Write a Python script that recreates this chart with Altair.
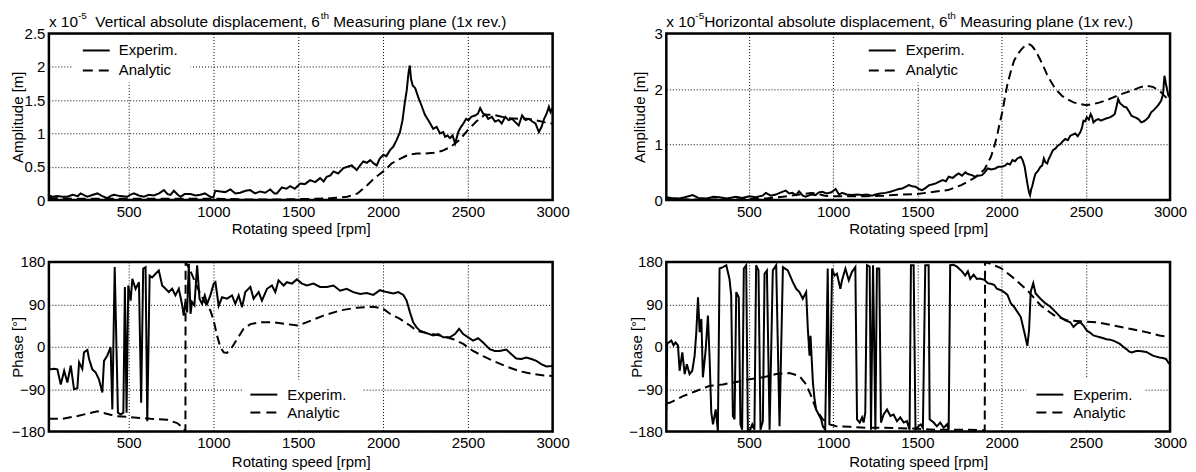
import altair as alt
import pandas as pd

FONT = "Liberation Sans"

# ---------------- data (rpm, value) ----------------
# Top-left: vertical amplitude [x 1e-5 m]
tl_exp = [(30,0.07),(50,0.05),(80,0.06),(110,0.05),(139,0.05),(170,0.08),(200,0.06),(217,0.1),(240,0.07),
          (257,0.05),(290,0.08),(316,0.1),(345,0.06),(374,0.03),(400,0.07),(414,0.08),(450,0.06),(492,0.05),
          (510,0.08),(531,0.1),(560,0.07),(590,0.05),(620,0.08),(649,0.07),(680,0.1),(708,0.15),(730,0.09),
          (747,0.08),(767,0.14),(790,0.08),(806,0.05),(830,0.09),(865,0.09),(895,0.07),(923,0.08),(950,0.1),
          (982,0.05),(1000,0.04),(1011,0.14),(1041,0.13),(1070,0.12),(1100,0.16),(1130,0.1),(1158,0.11),
          (1190,0.14),(1217,0.15),(1245,0.1),(1276,0.13),(1305,0.11),(1335,0.16),(1360,0.1),(1374,0.1),
          (1404,0.19),(1430,0.17),(1453,0.21),(1480,0.17),(1512,0.25),(1540,0.24),(1570,0.3),(1600,0.27),
          (1629,0.33),(1650,0.28),(1668,0.35),(1690,0.37),(1708,0.43),(1735,0.4),(1767,0.48),(1790,0.5),
          (1816,0.52),(1845,0.45),(1865,0.52),(1884,0.58),(1905,0.56),(1924,0.6),(1945,0.55),(1963,0.52),
          (1980,0.62),(2002,0.68),(2020,0.66),(2041,0.75),(2060,0.8),(2080,0.9),(2100,1.02),(2115,1.2),
          (2128,1.45),(2140,1.65),(2150,1.9),(2158,2.02),(2165,1.82),(2175,1.72),(2190,1.68),(2207,1.55),
          (2227,1.42),(2247,1.28),(2267,1.2),(2285,1.12),(2296,1.07),(2316,1.1),(2336,1.0),(2355,1.02),
          (2366,0.95),(2380,0.97),(2395,0.93),(2410,0.97),(2425,0.85),(2445,1.03),(2460,1.1),(2474,1.15),
          (2490,1.22),(2504,1.2),(2520,1.25),(2543,1.27),(2560,1.3),(2573,1.38),(2590,1.3),(2605,1.28),
          (2620,1.22),(2642,1.25),(2660,1.18),(2682,1.2),(2700,1.15),(2721,1.25),(2740,1.2),(2761,1.22),
          (2780,1.17),(2800,1.12),(2820,1.27),(2840,1.2),(2860,1.22),(2880,1.18),(2899,1.15),(2919,1.02),
          (2935,1.1),(2950,1.22),(2965,1.3),(2978,1.4),(2988,1.32),(3000,1.38)]
tl_ana = [(30,0.03),(200,0.02),(400,0.02),(600,0.02),(800,0.02),(1000,0.02),(1200,0.01),(1400,0.01),
          (1600,0.02),(1700,0.03),(1790,0.05),(1850,0.1),(1905,0.22),(1950,0.33),(2012,0.45),(2050,0.55),
          (2100,0.62),(2150,0.68),(2200,0.7),(2250,0.7),(2300,0.71),(2350,0.74),(2400,0.8),(2450,0.9),
          (2500,1.05),(2550,1.18),(2600,1.28),(2650,1.28),(2700,1.25),(2750,1.23),(2800,1.22),(2850,1.22),
          (2900,1.2),(2950,1.17),(3000,1.15)]

# Top-right: horizontal amplitude [x 1e-5 m]
tr_exp = [(10,0.05),(40,0.04),(87,0.03),(120,0.05),(166,0.09),(200,0.04),(250,0.03),(290,0.06),(324,0.05),
          (370,0.03),(423,0.06),(460,0.04),(502,0.07),(540,0.05),(581,0.08),(601,0.13),(630,0.08),(660,0.1),
          (690,0.14),(719,0.17),(740,0.12),(758,0.13),(780,0.09),(798,0.16),(820,0.08),(837,0.06),(870,0.1),
          (896,0.09),(915,0.14),(936,0.15),(960,0.12),(990,0.14),(1015,0.2),(1035,0.1),(1054,0.13),(1080,0.1),
          (1114,0.09),(1140,0.1),(1173,0.09),(1200,0.1),(1230,0.08),(1252,0.1),(1280,0.12),(1311,0.13),
          (1340,0.15),(1370,0.18),(1390,0.2),(1410,0.21),(1430,0.24),(1449,0.27),(1470,0.25),(1489,0.24),
          (1510,0.2),(1528,0.18),(1550,0.22),(1570,0.27),(1587,0.28),(1610,0.3),(1627,0.33),(1650,0.36),
          (1670,0.34),(1686,0.42),(1710,0.4),(1730,0.45),(1745,0.48),(1765,0.44),(1785,0.5),(1800,0.47),
          (1824,0.45),(1845,0.42),(1859,0.44),(1884,0.45),(1900,0.5),(1918,0.57),(1940,0.55),(1963,0.57),
          (1980,0.6),(2002,0.6),(2020,0.62),(2035,0.66),(2050,0.64),(2065,0.72),(2080,0.7),(2094,0.75),
          (2114,0.78),(2125,0.72),(2137,0.6),(2145,0.45),(2153,0.3),(2162,0.15),(2169,0.09),(2176,0.2),
          (2182,0.25),(2192,0.38),(2202,0.48),(2215,0.52),(2231,0.6),(2241,0.62),(2251,0.75),(2261,0.68),
          (2271,0.66),(2280,0.74),(2290,0.8),(2305,0.9),(2320,0.93),(2334,0.98),(2349,1.01),(2363,1.06),
          (2378,1.1),(2393,1.08),(2408,1.16),(2422,1.18),(2437,1.2),(2452,1.15),(2467,1.22),(2477,1.3),
          (2486,1.43),(2496,1.42),(2506,1.49),(2518,1.45),(2529,1.55),(2537,1.5),(2545,1.4),(2560,1.44),
          (2574,1.46),(2590,1.43),(2604,1.45),(2620,1.47),(2643,1.49),(2660,1.52),(2672,1.55),(2682,1.68),
          (2692,1.82),(2702,1.75),(2712,1.72),(2727,1.68),(2741,1.67),(2756,1.6),(2771,1.52),(2785,1.5),
          (2800,1.48),(2815,1.45),(2829,1.4),(2845,1.42),(2859,1.45),(2874,1.5),(2888,1.58),(2903,1.62),
          (2918,1.67),(2932,1.72),(2947,1.79),(2958,1.9),(2967,2.24),(2975,2.1),(2982,2.0),(2990,1.88),
          (3000,1.85)]
tr_ana = [(10,0.02),(200,0.01),(400,0.01),(500,0.02),(600,0.03),(700,0.06),(800,0.1),(870,0.13),(900,0.12),
          (950,0.08),(1000,0.07),(1100,0.07),(1200,0.07),(1300,0.08),(1400,0.1),(1500,0.11),(1600,0.15),
          (1682,0.18),(1761,0.27),(1839,0.4),(1898,0.55),(1937,0.78),(1960,1.0),(1976,1.2),(1990,1.4),
          (2006,1.61),(2020,1.85),(2035,2.09),(2055,2.32),(2074,2.51),(2094,2.62),(2114,2.7),(2135,2.77),
          (2153,2.81),(2170,2.8),(2182,2.77),(2197,2.71),(2212,2.63),(2231,2.52),(2251,2.39),(2270,2.26),
          (2290,2.15),(2310,2.05),(2329,1.97),(2358,1.88),(2388,1.82),(2427,1.76),(2467,1.73),(2506,1.71),
          (2545,1.73),(2584,1.76),(2624,1.8),(2663,1.85),(2702,1.9),(2741,1.94),(2780,1.98),(2820,2.03),
          (2859,2.06),(2898,2.04),(2937,1.97),(2960,1.9),(2976,1.85),(3000,1.78)]

# Bottom-left: vertical phase [deg]
bl_exp = [(30,125),(33,-48),(41,-48),(60,-47),(80,-48),(100,-80),(120,-51),(139,-76),(159,-40),(178,-90),
          (198,-88),(208,-33),(227,-47),(237,-12),(257,-7),(267,-26),(286,-48),(306,-55),(325,-69),(345,-97),
          (355,-30),(374,-19),(394,-1),(404,-133),(418,169),(437,-140),(453,-144),(469,-140),(478,127),
          (488,-140),(498,130),(512,98),(522,144),(541,123),(561,137),(574,-119),(586,166),(600,169),
          (610,-158),(624,151),(639,147),(659,155),(678,162),(698,130),(718,123),(737,116),(757,123),
          (776,109),(796,123),(816,88),(825,66),(835,95),(845,73),(855,176),(865,70),(874,95),(888,88),
          (904,173),(918,102),(933,91),(949,109),(963,91),(982,109),(1002,134),(1012,137),(1031,87),
          (1051,105),(1080,102),(1110,109),(1129,91),(1149,109),(1169,84),(1188,116),(1218,127),(1237,102),
          (1267,116),(1286,98),(1316,123),(1345,130),(1365,116),(1384,141),(1414,130),(1433,137),(1463,134),
          (1492,143),(1522,134),(1551,130),(1590,134),(1629,127),(1669,127),(1708,130),(1747,119),(1786,123),
          (1825,116),(1865,112),(1904,114),(1943,110),(1982,120),(2021,116),(2061,113),(2090,116),(2120,110),
          (2139,98),(2159,73),(2178,52),(2198,41),(2218,34),(2257,29),(2296,24),(2326,27),(2355,20),(2394,20),
          (2424,27),(2449,38),(2473,27),(2502,20),(2531,13),(2561,18),(2590,9),(2629,-5),(2659,-9),(2688,-9),
          (2727,-6),(2757,-16),(2786,-25),(2816,-26),(2845,-23),(2875,-26),(2904,-30),(2933,-37),(2963,-42),
          (2992,-41),(3000,-40)]
bl_ana = [(30,-153),(110,-153),(200,-147),(316,-137),(420,-147),(531,-150),(630,-153),(727,-155),(786,-162),
          (820,-172),(835,-179),(836,179),(860,165),(900,130),(940,100),(982,77),(1002,55),(1022,23),
          (1041,-1),(1061,-12),(1080,-13),(1110,-1),(1139,16),(1178,38),(1218,48),(1276,52),(1355,52),
          (1433,48),(1502,45),(1571,55),(1649,66),(1747,77),(1845,83),(1943,85),(2000,81),(2041,70),
          (2100,59),(2159,45),(2198,34),(2257,29),(2335,24),(2414,16),(2473,6),(2531,-9),(2590,-20),
          (2649,-30),(2727,-42),(2806,-52),(2884,-58),(2950,-61),(3000,-62)]

# Bottom-right: horizontal phase [deg]
br_exp = [(10,-135),(15,8),(20,8),(40,13),(53,3),(65,9),(79,3),(89,-51),(105,-12),(119,-58),(132,-37),
          (148,-58),(164,-51),(178,-19),(188,31),(198,105),(208,31),(218,59),(227,-65),(243,-9),(257,66),
          (267,-26),(277,-140),(287,-165),(303,-133),(316,-179),(326,166),(346,169),(366,173),(385,144),
          (395,109),(405,-147),(415,-154),(425,116),(440,105),(450,-165),(460,-176),(470,166),(484,173),
          (494,-176),(508,-176),(520,-165),(533,-176),(543,173),(557,162),(569,-176),(583,-158),(593,155),
          (607,162),(623,-176),(642,162),(662,173),(682,-169),(702,169),(731,162),(761,137),(781,123),
          (800,116),(820,102),(840,116),(850,38),(860,-19),(866,23),(880,-76),(890,-112),(899,-133),
          (909,-140),(919,-147),(929,-154),(939,-169),(953,-176),(968,166),(978,-165),(994,166),(1008,151),
          (1023,155),(1043,123),(1053,141),(1073,166),(1093,141),(1112,159),(1132,169),(1142,-154),
          (1158,-161),(1172,-150),(1181,-161),(1191,-140),(1201,173),(1217,170),(1225,-176),(1237,173),
          (1251,-176),(1260,166),(1274,166),(1284,-161),(1300,-144),(1320,-133),(1340,-147),(1359,-144),
          (1379,-158),(1399,-150),(1419,-161),(1438,-158),(1454,-176),(1462,173),(1478,173),(1489,-176),
          (1507,-169),(1521,-165),(1533,-172),(1547,173),(1567,173),(1573,-154),(1597,-161),(1616,-169),
          (1636,-161),(1656,-172),(1676,-165),(1686,-176),(1695,173),(1715,174),(1735,170),(1765,160),
          (1784,151),(1800,160),(1814,144),(1834,153),(1853,144),(1870,145),(1898,142),(1918,135),(1942,133),
          (1957,131),(1972,123),(1996,120),(2015,116),(2035,110),(2055,92),(2074,85),(2094,74),(2114,63),
          (2133,34),(2153,2),(2163,34),(2173,117),(2188,135),(2202,113),(2231,102),(2261,92),(2290,85),
          (2320,74),(2349,63),(2378,56),(2408,52),(2427,42),(2447,49),(2467,52),(2486,45),(2506,34),(2525,30),
          (2545,24),(2565,22),(2584,20),(2604,18),(2623,16),(2643,15),(2663,13),(2682,10),(2702,6),(2722,0),
          (2741,-5),(2756,-10),(2771,-12),(2800,-9),(2820,-9),(2840,-10),(2859,-11),(2880,-15),(2898,-19),
          (2918,-21),(2937,-23),(2957,-24),(2976,-26),(2992,-35),(3000,-36)]
br_ana = [(10,-120),(30,-119),(109,-105),(188,-94),(267,-83),(346,-80),(425,-75),(504,-69),(583,-65),
          (662,-58),(741,-56),(800,-62),(840,-80),(870,-105),(899,-133),(939,-154),(978,-165),(1018,-169),
          (1100,-170),(1200,-172),(1300,-172),(1400,-173),(1500,-174),(1600,-176),(1700,-176),(1800,-176),
          (1880,-177),(1900,-178),(1902,179),(1918,178),(1996,167),(2074,145),(2153,120),(2231,88),(2310,67),
          (2388,56),(2467,54),(2565,52),(2663,45),(2761,38),(2859,31),(2937,24),(3000,20)]

X_TICKS = [500, 1000, 1500, 2000, 2500, 3000]
AMP_V_TICKS = [0, 0.5, 1, 1.5, 2, 2.5]
AMP_H_TICKS = [0, 1, 2, 3]
PHASE_TICKS = [-180, -90, 0, 90, 180]
LEGEND_LABELS = ["Experim.", "Analytic"]
TITLE_V = ["x 10", "-5", "Vertical absolute displacement, 6", "th", "Measuring plane (1x rev.)"]
TITLE_H = ["x 10", "-5", "Horizontal absolute displacement, 6", "th", "Measuring plane (1x rev.)"]

# ---------------- layout helpers ----------------
W_PANEL = 505
H_TOP = 167
H_BOT = 170
TS = 15.4   # title font size
SS = 10     # superscript size
DASH = [9, 5]

CW = {' ': 278, '(': 333, ')': 333, ',': 278, '.': 278, '-': 333, 'x': 500, 'A': 667, 'H': 722, 'M': 833,
      'V': 667, 'a': 556, 'b': 556, 'c': 500, 'd': 556, 'e': 556, 'g': 556, 'h': 556, 'i': 222, 'l': 222,
      'm': 833, 'n': 556, 'o': 556, 'p': 556, 'r': 333, 's': 500, 't': 278, 'u': 556, 'v': 500, 'z': 500}


def tw(s, size):
    return sum(CW.get(c, 556) for c in s) * size / 1000.0


ONE = alt.Data(values=[{"k": 1}])


def title_layers(parts, gaps):
    layers = []
    cur = 0.0
    sups = [False, True, False, True, False]
    for txt, sup, gap in zip(parts, sups, gaps):
        cur += gap * tw(" ", TS)
        size = SS if sup else TS
        layers.append(
            alt.Chart(ONE).mark_text(align="left", baseline="middle", font=FONT, fontSize=size, color="black")
            .encode(x=alt.value(cur), y=alt.value(-18 if sup else -12), text=alt.value(txt))
        )
        cur += tw(txt, size)
    return layers


def legend_layers(box, lx, tx, y1, y2):
    rect = alt.Chart(ONE).mark_rect(color="white").encode(
        x=alt.value(box[0]), x2=alt.value(box[1]), y=alt.value(box[2]), y2=alt.value(box[3]))
    r1 = alt.Chart(ONE).mark_rule(color="black", strokeWidth=2).encode(
        x=alt.value(lx), x2=alt.value(lx + 27), y=alt.value(y1))
    r2 = alt.Chart(ONE).mark_rule(color="black", strokeWidth=2, strokeDash=[10, 6]).encode(
        x=alt.value(lx), x2=alt.value(lx + 27), y=alt.value(y2))
    t1 = alt.Chart(ONE).mark_text(align="left", baseline="middle", font=FONT, fontSize=15, color="black").encode(
        x=alt.value(tx), y=alt.value(y1), text=alt.value(LEGEND_LABELS[0]))
    t2 = alt.Chart(ONE).mark_text(align="left", baseline="middle", font=FONT, fontSize=15, color="black").encode(
        x=alt.value(tx), y=alt.value(y2), text=alt.value(LEGEND_LABELS[1]))
    return [rect, r1, r2, t1, t2]


AXIS_STYLE = dict(grid=True, ticks=False, domain=False, labelOverlap=False,
                  labelFont=FONT, labelFontSize=15, labelColor="black",
                  titleFont=FONT, titleFontSize=15, titleFontWeight="normal", titleColor="black",
                  gridColor="black", gridDash=[1, 2], gridWidth=1, gridOpacity=1)


def panel(exp, ana, xdom, ydom, yticks, ytitle, xtitle, h, title_x, title_y, amp, extra):
    exp_df = pd.DataFrame(exp, columns=["rpm", "val"])
    ana_df = pd.DataFrame(ana, columns=["rpm", "val"])
    xs = alt.Scale(domain=xdom, nice=False, zero=False)
    ys = alt.Scale(domain=ydom, nice=False, zero=False)
    xax = alt.Axis(values=X_TICKS, title=xtitle, labelFlush=False, labelPadding=4, format="d",
                   titleY=title_y, titleBaseline="middle", **AXIS_STYLE)
    yargs = dict(values=yticks, title=ytitle, labelPadding=4,
                 titleX=title_x, titleY=h / 2, titleBaseline="middle", **AXIS_STYLE)
    if amp:
        yargs["labelExpr"] = "'' + datum.value"
    yax = alt.Axis(**yargs)
    e = alt.Chart(exp_df).mark_line(color="black", strokeWidth=2, clip=True).encode(
        x=alt.X("rpm:Q", scale=xs, axis=xax), y=alt.Y("val:Q", scale=ys, axis=yax))
    a = alt.Chart(ana_df).mark_line(color="black", strokeWidth=2, strokeDash=DASH, clip=True).encode(
        x=alt.X("rpm:Q", scale=xs, axis=xax), y=alt.Y("val:Q", scale=ys, axis=yax))
    return alt.layer(e, a, *extra).properties(width=W_PANEL, height=h)


tl = panel(tl_exp, tl_ana, [30, 3000], [0, 2.5], AMP_V_TICKS, "Amplitude [m]", "Rotating speed [rpm]",
           H_TOP, -31, 28, True,
           legend_layers((24, 142, 2, 49), 34, 70, 17, 37) + title_layers(TITLE_V, [0, 0, 2, 0, 1]))
tr = panel(tr_exp, tr_ana, [10, 3000], [0, 3], AMP_H_TICKS, "Amplitude [m]", "Rotating speed [rpm]",
           H_TOP, -27, 28, True,
           legend_layers((193, 310, 2, 49), 203, 240, 17, 37) + title_layers(TITLE_H, [0, 0, 0, 0, 1]))
bl = panel(bl_exp, bl_ana, [30, 3000], [-180, 180], PHASE_TICKS, "Phase [°]", "Rotating speed [rpm]",
           H_BOT, -31, 30, False,
           legend_layers((195, 314, 118, 168), 202, 239, 133, 151))
br = panel(br_exp, br_ana, [10, 3000], [-180, 180], PHASE_TICKS, "Phase [°]", "Rotating speed  [rpm]",
           H_BOT, -30, 30, False,
           legend_layers((361, 480, 116, 168), 371, 408, 133, 151))

chart = alt.concat(tl, tr, bl, br, columns=2, spacing={"column": 114, "row": 62}, bounds="flush").properties(
    padding={"left": 1, "top": 0, "right": 0, "bottom": 0},
    background="white"
).configure_view(
    stroke="black", strokeWidth=2.5
)

chart.save("out.html", embed_options={"renderer": "svg", "actions": False})
